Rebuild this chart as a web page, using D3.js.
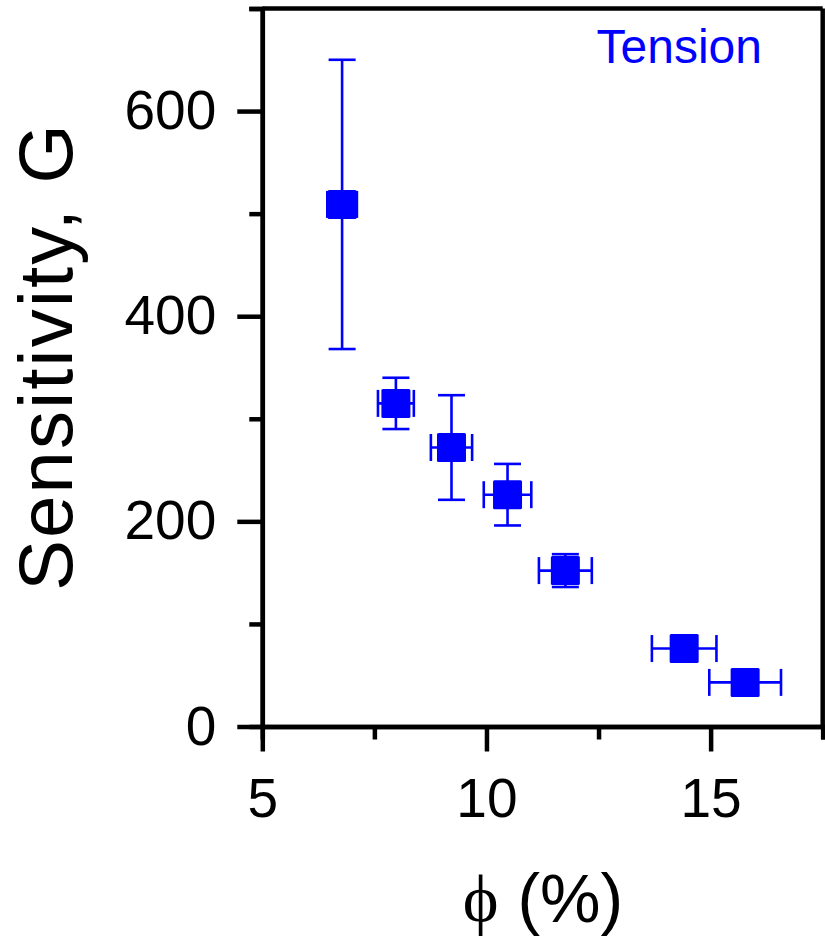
<!DOCTYPE html>
<html>
<head>
<meta charset="utf-8">
<script src="https://cdn.jsdelivr.net/npm/d3@7"></script>
<style>
  body { margin: 0; background: #fff; }
  text { font-family: "Liberation Sans", Arial, sans-serif; }
</style>
</head>
<body>
<div id="chart"></div>
<script>
// porosity (%) and sensitivity values
const phi = [6.78, 7.98, 9.22, 10.47, 11.76, 14.41, 15.77];
const phiErr = [0.33, 0.40, 0.46, 0.53, 0.59, 0.72, 0.80];
const sens = [509, 315, 272, 226, 152, 76, 43];
const sensErr = [141, 25, 51, 30, 16, 8, 8];

const xMajor = [5, 10, 15];
const xMinor = [7.5, 12.5, 17.5];
const yMajor = [0, 200, 400, 600];
const yMinor = [100, 300, 500, 700];

function renderChart() {
    const width = 825, height = 938;
    const left = 262.3, right = 822.7, top = 8.5, bottom = 726.5;
    const blue = "#0000ff";

    const svg = d3.select("#chart").append("svg")
        .attr("width", width)
        .attr("height", height);

    const x = d3.scaleLinear().domain([5, 17.5]).range([left, right]);
    const y = d3.scaleLinear().domain([0, 700]).range([bottom, top]);

    const data = phi.map((p, i) => ({x: p, xe: phiErr[i], y: sens[i], ye: sensErr[i]}));

    // frame top / right
    svg.append("line")
        .attr("x1", left).attr("x2", right)
        .attr("y1", top).attr("y2", top)
        .attr("stroke", "#000").attr("stroke-width", 4.5);
    svg.append("line")
        .attr("x1", right).attr("x2", right)
        .attr("y1", top).attr("y2", bottom)
        .attr("stroke", "#000").attr("stroke-width", 4.5);

    // axes: minor ticks first, then major with labels
    const gxMinor = svg.append("g")
        .attr("transform", "translate(0," + bottom + ")")
        .call(d3.axisBottom(x).tickValues(xMinor).tickSize(13).tickFormat(""));
    const gx = svg.append("g")
        .attr("transform", "translate(0," + bottom + ")")
        .call(d3.axisBottom(x).tickValues(xMajor).tickSize(25).tickPadding(26).tickSizeOuter(0));

    const gyMinor = svg.append("g")
        .attr("transform", "translate(" + left + ",0)")
        .call(d3.axisLeft(y).tickValues(yMinor).tickSize(13).tickFormat(""));
    const gy = svg.append("g")
        .attr("transform", "translate(" + left + ",0)")
        .call(d3.axisLeft(y).tickValues(yMajor).tickSize(25).tickPadding(21).tickSizeOuter(0));

    [gxMinor, gx, gyMinor, gy].forEach(function (g) {
        g.selectAll("line").attr("stroke", "#000").attr("stroke-width", 4.5);
        g.selectAll(".domain").attr("stroke", "#000").attr("stroke-width", 4.5);
    });
    gx.selectAll("text")
        .style("font-family", "'Liberation Sans', Arial, sans-serif")
        .style("font-size", "55px").attr("fill", "#000");
    gy.selectAll("text")
        .style("font-family", "'Liberation Sans', Arial, sans-serif")
        .style("font-size", "55px").attr("fill", "#000");

    // error bars
    const eb = svg.append("g")
        .attr("stroke", blue)
        .attr("stroke-width", 2.6)
        .attr("fill", "none");
    const cap = 13.5;
    data.forEach(function (d) {
        const cx = x(d.x), cy = y(d.y);
        const y1 = y(d.y + d.ye), y2 = y(d.y - d.ye);
        const x1 = x(d.x - d.xe), x2 = x(d.x + d.xe);
        eb.append("line").attr("x1", cx).attr("x2", cx).attr("y1", y1).attr("y2", y2);
        eb.append("line").attr("x1", cx - cap).attr("x2", cx + cap).attr("y1", y1).attr("y2", y1);
        eb.append("line").attr("x1", cx - cap).attr("x2", cx + cap).attr("y1", y2).attr("y2", y2);
        eb.append("line").attr("x1", x1).attr("x2", x2).attr("y1", cy).attr("y2", cy);
        eb.append("line").attr("x1", x1).attr("x2", x1).attr("y1", cy - cap).attr("y2", cy + cap);
        eb.append("line").attr("x1", x2).attr("x2", x2).attr("y1", cy - cap).attr("y2", cy + cap);
    });

    // markers
    const sq = 29;
    svg.append("g")
        .selectAll("rect")
        .data(data)
        .enter()
        .append("rect")
        .attr("x", d => x(d.x) - sq / 2)
        .attr("y", d => y(d.y) - sq / 2)
        .attr("width", sq)
        .attr("height", sq)
        .attr("rx", 1.5)
        .attr("fill", blue);

    // legend text
    svg.append("text")
        .attr("x", 762)
        .attr("y", 63)
        .attr("text-anchor", "end")
        .attr("fill", blue)
        .style("font-size", "48px")
        .text("Tension");

    // axis titles
    svg.append("text")
        .attr("transform", "translate(72,356.5) rotate(-90)")
        .attr("text-anchor", "middle")
        .attr("fill", "#000")
        .style("font-size", "76px")
        .style("letter-spacing", "2.2px")
        .text("Sensitivity, G");

    const xt = svg.append("text")
        .attr("x", 543)
        .attr("y", 922)
        .attr("text-anchor", "middle")
        .attr("fill", "#000")
        .style("font-size", "68px");
    xt.append("tspan")
        .style("font-family", "'Liberation Serif', 'DejaVu Serif', serif")
        .text("\u03D5");
    xt.append("tspan").text(" (%)");
}

renderChart();
</script>
</body>
</html>
